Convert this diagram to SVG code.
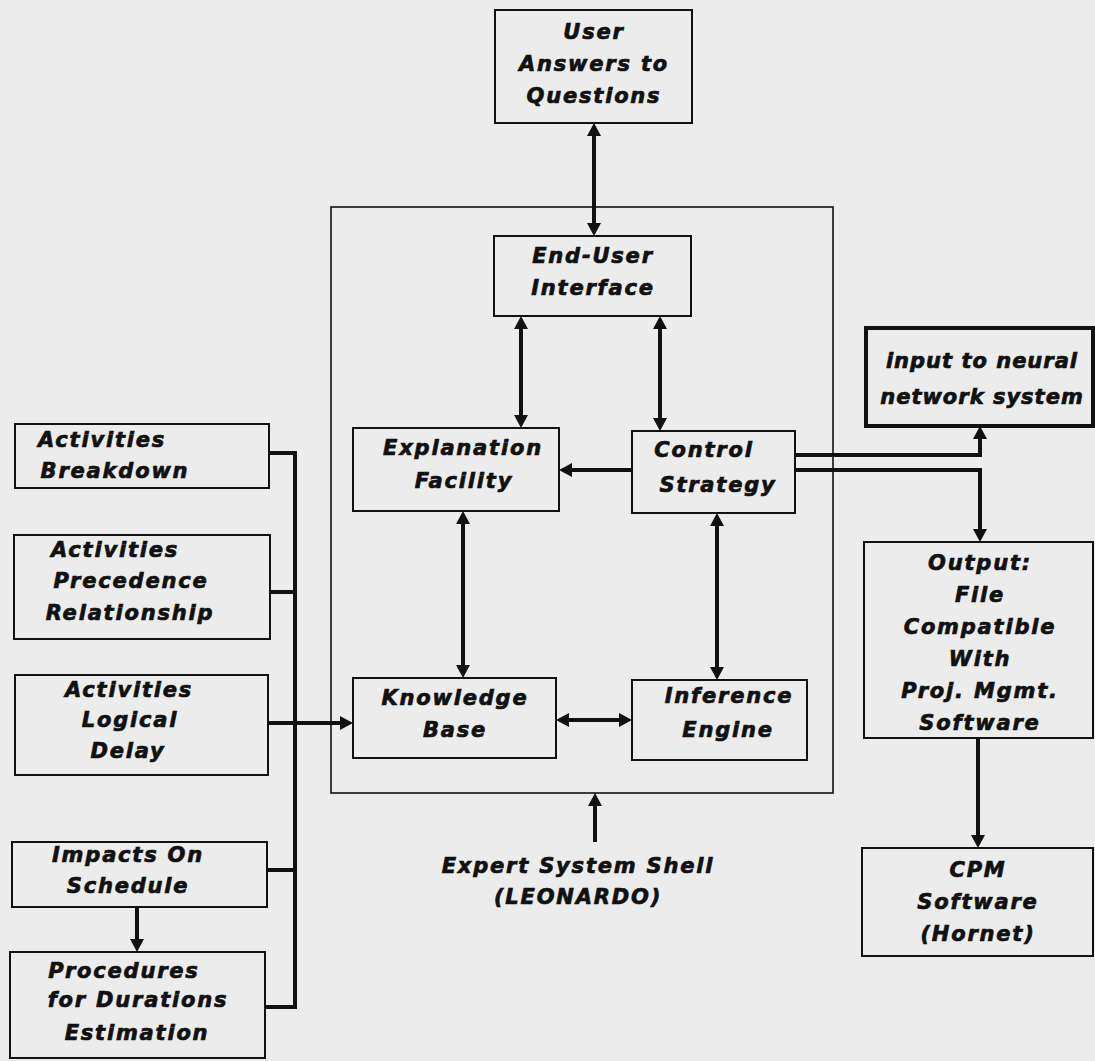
<svg xmlns="http://www.w3.org/2000/svg" width="1095" height="1061" viewBox="0 0 1095 1061">
<style>
.box{fill:none;stroke:#111;stroke-width:2}
.thick{fill:none;stroke:#111;stroke-width:4}
.frame{fill:none;stroke:#111;stroke-width:1.6}
.c{fill:none;stroke:#111;stroke-width:4;stroke-linejoin:miter}
.t{font-family:"DejaVu Sans","Liberation Sans",sans-serif;font-weight:bold;font-style:oblique;font-size:21px;letter-spacing:1.8px;fill:#111;stroke:#111;stroke-width:0.7;text-anchor:middle}
.n{letter-spacing:1px}
</style>
<defs>
<marker id="ah" markerUnits="userSpaceOnUse" markerWidth="14" markerHeight="14" refX="3" refY="7" orient="auto-start-reverse">
<path d="M0,0 L13,7 L0,14 Z" fill="#111"/>
</marker>
</defs>
<rect width="1095" height="1061" fill="#ececec"/>

<g id="container"><rect class="frame" x="331" y="207" width="502" height="586"/></g>

<g id="user"><rect class="box" x="495" y="10" width="197" height="113"/>
<text class="t" x="594" y="39">User</text><text class="t" x="594" y="71">Answers to</text><text class="t" x="594" y="103">Questions</text></g>

<g id="enduser"><rect class="box" x="494" y="236" width="197" height="80"/>
<text class="t" x="593" y="263">End-User</text><text class="t" x="593" y="295">Interface</text></g>

<g id="explanation"><rect class="box" x="353" y="428" width="206" height="83"/>
<text class="t" x="463" y="455">Explanation</text><text class="t" x="464" y="488">Facility</text></g>

<g id="control"><rect class="box" x="632" y="431" width="163" height="82"/>
<text class="t" x="704" y="457">Control</text><text class="t" x="718" y="492">Strategy</text></g>

<g id="knowledge"><rect class="box" x="353" y="678" width="203" height="80"/>
<text class="t" x="455" y="705">Knowledge</text><text class="t" x="455" y="737">Base</text></g>

<g id="inference"><rect class="box" x="632" y="680" width="175" height="80"/>
<text class="t" x="729" y="703">Inference</text><text class="t" x="728" y="737">Engine</text></g>

<g id="shell"><text class="t" x="578" y="873">Expert System Shell</text><text class="t" x="578" y="904">(LEONARDO)</text></g>

<g id="input"><rect class="thick" x="866" y="328" width="227" height="98"/>
<text class="t n" x="982" y="368">input to neural</text><text class="t n" x="982" y="404">network system</text></g>

<g id="output"><rect class="box" x="864" y="542" width="229" height="196"/>
<text class="t" x="980" y="570">Output:</text><text class="t" x="980" y="602">File</text><text class="t" x="980" y="634">Compatible</text><text class="t" x="980" y="666">With</text><text class="t" x="980" y="698">Proj. Mgmt.</text><text class="t" x="980" y="730">Software</text></g>

<g id="cpm"><rect class="box" x="862" y="848" width="231" height="108"/>
<text class="t" x="978" y="877">CPM</text><text class="t" x="978" y="909">Software</text><text class="t" x="978" y="941">(Hornet)</text></g>

<g id="breakdown"><rect class="box" x="15" y="424" width="254" height="64"/>
<text class="t" x="102" y="447">Activities</text><text class="t" x="115" y="478">Breakdown</text></g>

<g id="precedence"><rect class="box" x="14" y="535" width="256" height="104"/>
<text class="t" x="115" y="557">Activities</text><text class="t" x="131" y="588">Precedence</text><text class="t" x="130" y="620">Relationship</text></g>

<g id="logical"><rect class="box" x="15" y="675" width="253" height="100"/>
<text class="t" x="129" y="697">Activities</text><text class="t" x="130" y="727">Logical</text><text class="t" x="128" y="758">Delay</text></g>

<g id="impacts"><rect class="box" x="12" y="842" width="255" height="65"/>
<text class="t" x="128" y="862">Impacts On</text><text class="t" x="128" y="893">Schedule</text></g>

<g id="procedures"><rect class="box" x="10" y="952" width="255" height="106"/>
<text class="t" x="124" y="978">Procedures</text><text class="t" x="138" y="1007">for Durations</text><text class="t" x="137" y="1040">Estimation</text></g>

<g id="connectors">
<path class="c" d="M594,133 L594,226" marker-start="url(#ah)" marker-end="url(#ah)"/>
<path class="c" d="M521,326 L521,418" marker-start="url(#ah)" marker-end="url(#ah)"/>
<path class="c" d="M660,326 L660,421" marker-start="url(#ah)" marker-end="url(#ah)"/>
<path class="c" d="M632,470 L569,470" marker-end="url(#ah)"/>
<path class="c" d="M463,521 L463,668" marker-start="url(#ah)" marker-end="url(#ah)"/>
<path class="c" d="M717,523 L717,670" marker-start="url(#ah)" marker-end="url(#ah)"/>
<path class="c" d="M566,720 L622,720" marker-start="url(#ah)" marker-end="url(#ah)"/>
<path class="c" d="M795,455 L980,455 L980,436" marker-end="url(#ah)"/>
<path class="c" d="M795,470 L980,470 L980,532" marker-end="url(#ah)"/>
<path class="c" d="M978,738 L978,838" marker-end="url(#ah)"/>
<path class="c" d="M595,842 L595,803" marker-end="url(#ah)"/>
<path class="c" d="M269,453 L295,453 L295,1007 L265,1007"/>
<path class="c" d="M270,592 L295,592"/>
<path class="c" d="M267,870 L295,870"/>
<path class="c" d="M268,723 L343,723" marker-end="url(#ah)"/>
<path class="c" d="M137,907 L137,942" marker-end="url(#ah)"/>
</g>
</svg>
